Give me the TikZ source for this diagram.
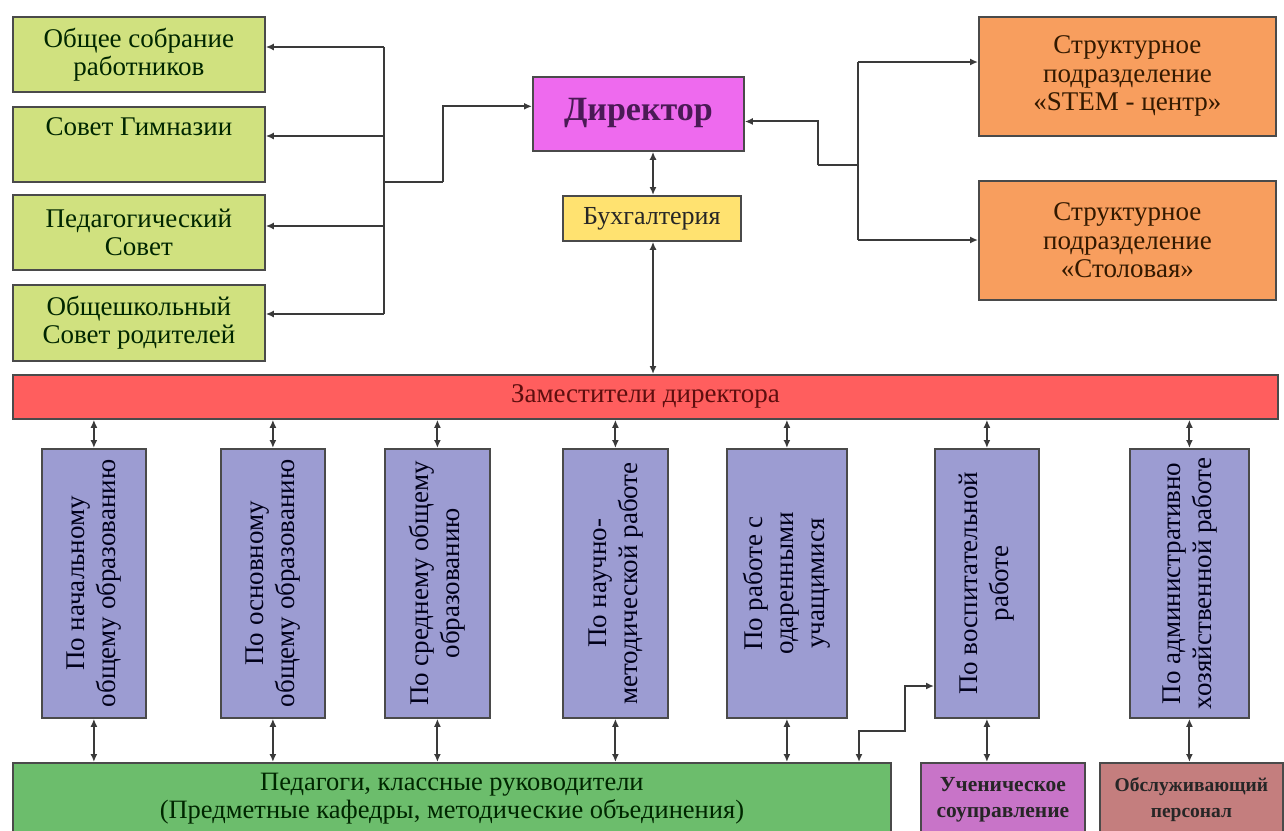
\documentclass[tikz,border=0pt]{standalone}
\usepackage{fontspec}
\setmainfont{Liberation Serif}
\usetikzlibrary{arrows.meta,calc}
\definecolor{cGreenL}{HTML}{D0E17F}
\definecolor{cMag}{HTML}{EE6AEE}
\definecolor{cYel}{HTML}{FFE270}
\definecolor{cOra}{HTML}{F89E5E}
\definecolor{cRed}{HTML}{FF5E5E}
\definecolor{cPur}{HTML}{9C9CD2}
\definecolor{cGreenD}{HTML}{6CBD6C}
\definecolor{cUch}{HTML}{C874C8}
\definecolor{cObs}{HTML}{C47E7E}
\definecolor{cLine}{HTML}{3A3A3A}
\definecolor{cBord}{HTML}{4A4A4A}
\definecolor{cZamT}{HTML}{5E0E0E}
\definecolor{cDirT}{HTML}{4A1A55}
\tikzset{
  x=1pt,y=-1pt,
  box/.style={draw=cBord, line width=1.8pt, inner sep=0pt, anchor=north west, align=center},
  gbox/.style={box, fill=cGreenL, text=black!85!green, font=\fontsize{27}{28}\selectfont},
  obox/.style={box, fill=cOra, text=black!80!orange, font=\fontsize{27}{28.5}\selectfont},
  pbox/.style={box, fill=cPur, text=black!90!blue, font=\fontsize{27}{31}\selectfont},
  conn/.style={draw=cLine, line width=2pt},
  arr/.style={conn, -{Latex[length=8pt,width=7pt]}},
  darr/.style={conn, {Latex[length=8pt,width=7pt]}-{Latex[length=8pt,width=7pt]}},
}
\newcommand{\rot}[1]{\rotatebox{90}{\begin{tabular}{@{}c@{}}#1\end{tabular}}}
\begin{document}
\begin{tikzpicture}
\useasboundingbox[fill=white] (0,0) rectangle (1284,830);

% left councils
\node[gbox, minimum width=252, minimum height=75] (g1) at (12,16) {Общее собрание\\работников};
\node[gbox, minimum width=252, minimum height=75] (g2) at (12,106) {Совет Гимназии\\\strut};
\node[gbox, minimum width=252, minimum height=75] (g3) at (12,194) {Педагогический\\Совет};
\node[gbox, minimum width=252, minimum height=76] (g4) at (12,284) {Общешкольный\\Совет родителей};

% director
\node[box, fill=cMag, minimum width=211, minimum height=74, text=cDirT, font=\fontsize{34}{38}\selectfont\bfseries] (dir) at (532,76) {\raisebox{10pt}{Директор}};
\node[box, fill=cYel, minimum width=178, minimum height=45, text=black!85, font=\fontsize{26}{28}\selectfont] (buh) at (562,195) {Бухгалтерия};

% orange
\node[obox, minimum width=297, minimum height=119] (o1) at (978,16) {Структурное\\подразделение\\«STEM - центр»};
\node[obox, minimum width=297, minimum height=119] (o2) at (978,180) {Структурное\\подразделение\\«Столовая»};

% deputies bar
\node[box, fill=cRed, minimum width=1265, minimum height=44, text=cZamT, font=\fontsize{27}{28}\selectfont] (zam) at (12,374) {Заместители директора};

% purple columns
\node[pbox, minimum width=104, minimum height=269] (p1) at (41,448) {\rot{По начальному\\общему образованию}};
\node[pbox, minimum width=104, minimum height=269] (p2) at (220,448) {\rot{По основному\\общему образованию}};
\node[pbox, minimum width=105, minimum height=269] (p3) at (384,448) {\rot{По среднему общему\\образованию}};
\node[pbox, minimum width=105, minimum height=269] (p4) at (562,448) {\rot{По научно-\\методической работе}};
\node[pbox, minimum width=120, minimum height=269] (p5) at (726,448) {\rot{По работе с\\одаренными\\учащимися}};
\node[pbox, minimum width=104, minimum height=269] (p6) at (934,448) {\rot{По воспитательной\\работе}};
\node[pbox, minimum width=119, minimum height=269] (p7) at (1129,448) {\rot{По административно\\хозяйственной работе}};

% bottom row
\node[box, fill=cGreenD, minimum width=878, minimum height=72, text=black!85!green, font=\fontsize{26.5}{28}\selectfont] (ped) at (12,762) {\raisebox{2pt}{\begin{tabular}{@{}c@{}}Педагоги, классные руководители\\(Предметные кафедры, методические объединения)\end{tabular}}};
\node[box, fill=cUch, minimum width=164, minimum height=72, text=black!85, font=\fontsize{21.5}{26}\selectfont\bfseries] (uch) at (920,762) {\raisebox{2pt}{\begin{tabular}{@{}c@{}}Ученическое\\соуправление\end{tabular}}};
\node[box, fill=cObs, minimum width=183, minimum height=72, text=black!85, font=\fontsize{19.5}{26}\selectfont\bfseries] (obs) at (1099,762) {\raisebox{2pt}{\begin{tabular}{@{}c@{}}Обслуживающий\\персонал\end{tabular}}};

% left tree
\coordinate (tTop) at (384,47);
\coordinate (tBot) at (384,314);
\coordinate (hubL) at (384,182);
\coordinate (hubL2) at (443,182);
\coordinate (dirIn) at ($(dir.north west)!0.4!(dir.south west)$);
\draw[conn] (tTop) -- (tBot);
\draw[arr] (tTop) -- (tTop -| g1.east);
\draw[arr] (384,136) coordinate (t2) -- (t2 -| g2.east);
\draw[arr] (384,226) coordinate (t3) -- (t3 -| g3.east);
\draw[arr] (tBot) -- (tBot -| g4.east);
\draw[conn] (hubL) -- (hubL2);
\draw[arr] (hubL2) |- (dirIn);

% right tree
\coordinate (dirOut) at ($(dir.north east)!0.6!(dir.south east)$);
\coordinate (rb1) at (818,165);
\coordinate (rTop) at (858,62);
\coordinate (rBot) at (858,240);
\draw[arr] (rb1) |- (dirOut);
\draw[conn] (rb1) -- (rb1 -| rTop);
\draw[conn] (rTop) -- (rBot);
\draw[arr] (rTop) -- (rTop -| o1.west);
\draw[arr] (rBot) -- (rBot -| o2.west);

% director - accounting - deputies
\draw[darr] (dir.south -| 653,0) -- (buh.north -| 653,0);
\draw[darr] (buh.south -| 653,0) -- (zam.north -| 653,0);

% deputies to columns
\foreach \p in {p1,p2,p3,p4,p5,p6,p7}{
  \draw[darr] (zam.south -| \p.north) -- (\p.north);
}
% columns to bottom
\foreach \p in {p1,p2,p3,p4,p5}{
  \draw[darr] (\p.south) -- (\p.south |- ped.north);
}
\draw[darr] (p6.south) -- (p6.south |- uch.north);
\draw[darr] (p7.south) -- (p7.south |- obs.north);

% elbow to upbringing
\coordinate (ea) at (859,762);
\coordinate (eb) at (859,731);
\coordinate (ec) at (905,731);
\coordinate (ed) at (905,686);
\draw[darr] (ea) -- (eb) -- (ec) -- (ed) -- (ed -| p6.west);
\end{tikzpicture}
\end{document}
